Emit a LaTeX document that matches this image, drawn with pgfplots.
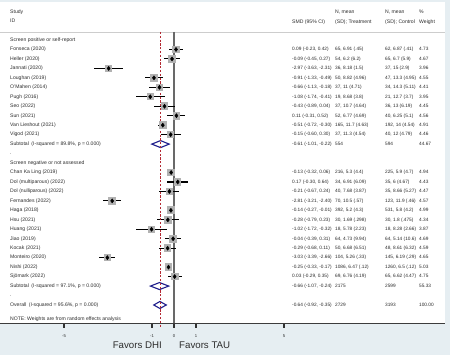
\documentclass[border=0pt]{standalone}
\usepackage{pgfplots}
\pgfplotsset{compat=1.18}
\usepackage{pgfplotstable}
\usepackage{fontspec}
\setmainfont{Liberation Sans}
\definecolor{bgc}{RGB}{230,238,242}
\definecolor{boxg}{RGB}{178,178,178}
\definecolor{zline}{RGB}{105,105,105}
\definecolor{refred}{RGB}{180,40,50}
\definecolor{dnavy}{RGB}{30,30,140}
\definecolor{txt}{RGB}{45,45,45}
\definecolor{sepg}{RGB}{205,205,205}

% r = row index (from top), est, lower, upper, weight
\pgfplotstableread{
r est lo hi w
1 0.09 -0.23 0.42 4.73
2 -0.09 -0.45 0.27 4.67
3 -2.97 -3.63 -2.31 3.96
4 -0.91 -1.33 -0.49 4.55
5 -0.66 -1.13 -0.18 4.41
6 -1.08 -1.74 -0.41 3.95
7 -0.43 -0.89 0.04 4.45
8 0.11 -0.31 0.52 4.56
9 -0.51 -0.72 -0.30 4.91
10 -0.15 -0.60 0.30 4.46
14 -0.13 -0.32 0.06 4.94
15 0.17 -0.30 0.64 4.43
16 -0.21 -0.67 0.24 4.47
17 -2.81 -3.21 -2.40 4.57
18 -0.14 -0.27 -0.01 4.99
19 -0.28 -0.79 0.23 4.34
20 -1.02 -1.72 -0.32 3.87
21 -0.04 -0.39 0.31 4.69
22 -0.29 -0.68 0.11 4.59
23 -3.03 -3.39 -2.66 4.65
24 -0.25 -0.33 -0.17 5.03
25 0.03 -0.29 0.35 4.75
}\studies

\newcommand{\ry}[1]{315-9.464*(#1)}
\tikzset{lbl/.style={anchor=west, inner sep=0pt, font=\fontsize{5.1bp}{6bp}\selectfont, text=txt, text height=3.7bp, text depth=1.1bp},
  nlbl/.style={lbl, font=\fontsize{4.75bp}{6bp}\selectfont}}
\newcommand{\st}[6]{%
  \node[lbl] at (10,{\ry{#1}}) {#2};
  \node[nlbl] at (292,{\ry{#1}}) {#3};
  \node[nlbl] at (335,{\ry{#1}}) {#4};
  \node[nlbl] at (385,{\ry{#1}}) {#5};
  \node[nlbl] at (419,{\ry{#1}}) {#6};
}

\begin{document}
\begin{tikzpicture}
\useasboundingbox (0,0) rectangle (450bp,355bp);
\fill[bgc] (0,0) rectangle (450bp,355bp);
\fill[white] (0,32bp) rectangle (445bp,353bp);
\draw[sepg, line width=0.9bp] (0,323bp) -- (445bp,323bp);

\begin{axis}[
  at={(0,32bp)}, anchor=south west,
  scale only axis, width=445bp, height=321bp,
  xmin=-7.90909, xmax=12.31818,
  ymin=-29.903, ymax=4.015,
  clip=false,
  axis x line*=bottom, hide y axis,
  axis line style={-, draw={rgb,255:red,60;green,60;blue,60}, line width=0.9bp},
  xtick={-5,-1,0,1,5}, xticklabels={-5,-1,0,1,5},
  ytick=\empty,
  tick align=outside, major tick length=5bp,
  tick style={draw={rgb,255:red,50;green,50;blue,50}, line width=1.1bp},
  xticklabel style={font=\fontsize{4.2bp}{5bp}\selectfont, text=txt, yshift=-3bp},
]
% zero line
\addplot[zline, line width=1.4bp] coordinates {(0,0.845) (0,-29.903)};
% weight boxes (area proportional to weight)
\addplot[color=boxg, scatter, only marks, mark=square*, mark options={draw=boxg, fill=boxg, line width=0pt},
  visualization depends on={1.55*sqrt(\thisrow{w}) \as \ms},
  scatter/@pre marker code/.code={\scope[mark size=\ms, draw=boxg, fill=boxg]},
  scatter/@post marker code/.code={\endscope}]
  table[x=est, y expr=-\thisrow{r}] {\studies};
% CIs and point estimates
\addplot[only marks, mark=diamond*, mark size=2.1pt, black,
  error bars/.cd, x dir=both, x explicit, error mark=none,
  error bar style={line width=1.1bp, black}]
  table[x=est, y expr=-\thisrow{r},
        x error plus expr=\thisrow{hi}-\thisrow{est},
        x error minus expr=\thisrow{est}-\thisrow{lo}] {\studies};
% pooled diamonds
\addplot[dnavy, line width=1.1bp, fill=white] coordinates {(-1.01,-11) (-0.61,-10.63) (-0.22,-11) (-0.61,-11.37)} -- cycle;
\addplot[dnavy, line width=1.1bp, fill=white] coordinates {(-1.07,-26) (-0.66,-25.63) (-0.24,-26) (-0.66,-26.37)} -- cycle;
\addplot[dnavy, line width=1.1bp, fill=white] coordinates {(-0.92,-28) (-0.64,-27.63) (-0.35,-28) (-0.64,-28.37)} -- cycle;
% overall effect line
\addplot[refred, line width=0.8bp, dash pattern=on 2.2bp off 1.6bp] coordinates {(-0.64,0.845) (-0.64,-30.33)};
\end{axis}

\begin{scope}[x=1bp, y=1bp]
\node[lbl] at (10,343) {Study};
\node[lbl] at (10,334) {ID};
\node[lbl] at (292,333) {SMD (95\% CI)};
\node[lbl] at (335,343) {N, mean};
\node[lbl] at (335,333) {(SD); Treatment};
\node[lbl] at (385,343) {N, mean};
\node[lbl] at (385,333) {(SD); Control};
\node[lbl] at (419,343) {\%};
\node[lbl] at (419,333) {Weight};

\node[lbl] at (10,{\ry{0}}) {Screen positive or self-report};
\st{1}{Fonseca (2020)}{0.09 (-0.23, 0.42)}{65, 6.91 (.45)}{62, 6.87 (.41)}{4.73}
\st{2}{Heller (2020)}{-0.09 (-0.45, 0.27)}{54, 6.2 (6.2)}{65, 6.7 (5.9)}{4.67}
\st{3}{Jannati (2020)}{-2.97 (-3.63, -2.31)}{36, 8.18 (1.5)}{37, 15 (2.9)}{3.96}
\st{4}{Loughan (2019)}{-0.91 (-1.33, -0.49)}{50, 8.82 (4.96)}{47, 13.3 (4.95)}{4.55}
\st{5}{O'Mahen (2014)}{-0.66 (-1.13, -0.18)}{37, 11 (4.71)}{34, 14.3 (5.11)}{4.41}
\st{6}{Pugh (2016)}{-1.08 (-1.74, -0.41)}{19, 8.68 (3.8)}{21, 12.7 (3.7)}{3.95}
\st{7}{Seo (2022)}{-0.43 (-0.89, 0.04)}{37, 10.7 (4.64)}{36, 13 (6.19)}{4.45}
\st{8}{Sun (2021)}{0.11 (-0.31, 0.52)}{52, 6.77 (4.69)}{40, 6.25 (5.1)}{4.56}
\st{9}{Van Lieshout (2021)}{-0.51 (-0.72, -0.30)}{165, 11.7 (4.63)}{192, 14 (4.54)}{4.91}
\st{10}{Vigod (2021)}{-0.15 (-0.60, 0.30)}{37, 11.3 (4.54)}{40, 12 (4.79)}{4.46}
\st{11}{Subtotal\enspace(I-squared = 89.8\%, p = 0.000)}{-0.61 (-1.01, -0.22)}{554}{594}{44.67}
\node[lbl] at (10,{\ry{12}}) {.};
\node[lbl] at (10,{\ry{13}}) {Screen negative or not assessed};
\st{14}{Chan Ka Ling (2019)}{-0.13 (-0.32, 0.06)}{216, 5.3 (4.4)}{225, 5.9 (4.7)}{4.94}
\st{15}{Dol (multiparous) (2022)}{0.17 (-0.30, 0.64)}{34, 6.91 (6.09)}{35, 6 (4.67)}{4.43}
\st{16}{Dol (nulliparous) (2022)}{-0.21 (-0.67, 0.24)}{40, 7.68 (3.87)}{35, 8.66 (5.27)}{4.47}
\st{17}{Fernandes (2022)}{-2.81 (-3.21, -2.40)}{70, 10.5 (.57)}{123, 11.9 (.46)}{4.57}
\st{18}{Haga (2018)}{-0.14 (-0.27, -0.01)}{392, 5.2 (4.3)}{531, 5.8 (4.2)}{4.99}
\st{19}{Hsu (2021)}{-0.28 (-0.79, 0.23)}{30, 1.69 (.298)}{30, 1.8 (.475)}{4.34}
\st{20}{Huang (2021)}{-1.02 (-1.72, -0.32)}{18, 5.78 (2.23)}{18, 8.28 (2.66)}{3.87}
\st{21}{Jiao (2019)}{-0.04 (-0.39, 0.31)}{64, 4.73 (9.94)}{64, 5.14 (10.6)}{4.69}
\st{22}{Kocak (2021)}{-0.29 (-0.68, 0.11)}{50, 6.68 (6.51)}{48, 8.61 (6.32)}{4.59}
\st{23}{Monteiro (2020)}{-3.03 (-3.39, -2.66)}{104, 5.26 (.33)}{145, 6.19 (.29)}{4.65}
\st{24}{Nishi (2022)}{-0.25 (-0.33, -0.17)}{1086, 6.47 (.12)}{1260, 6.5 (.12)}{5.03}
\st{25}{Sjömark (2022)}{0.03 (-0.29, 0.35)}{69, 6.76 (4.19)}{65, 6.62 (4.47)}{4.75}
\st{26}{Subtotal\enspace(I-squared = 97.1\%, p = 0.000)}{-0.66 (-1.07, -0.24)}{2175}{2599}{55.33}
\node[lbl] at (10,{\ry{27}}) {.};
\st{28}{Overall\enspace(I-squared = 95.6\%, p = 0.000)}{-0.64 (-0.92, -0.35)}{2729}{3193}{100.00}
\node[lbl] at (10,36) {NOTE: Weights are from random effects analysis};

\node[anchor=east, inner sep=0pt, font=\fontsize{9.7bp}{11bp}\selectfont, text=txt] at (162,10) {Favors DHI};
\node[anchor=west, inner sep=0pt, font=\fontsize{9.7bp}{11bp}\selectfont, text=txt] at (179,10) {Favors TAU};
\end{scope}
\end{tikzpicture}
\end{document}
